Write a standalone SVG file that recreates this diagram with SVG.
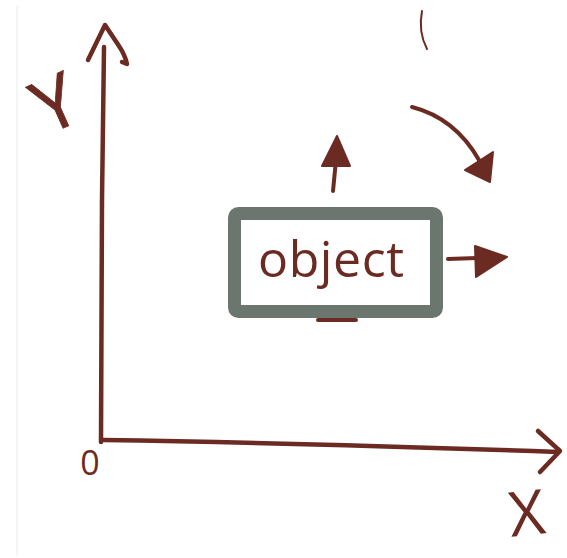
<svg xmlns="http://www.w3.org/2000/svg" width="567" height="558" viewBox="0 0 567 558">
<style>
.ink{fill:none;stroke:#6b2b23;stroke-linecap:round;stroke-linejoin:round}
.head{fill:#6b2b23;stroke:#6b2b23;stroke-width:2;stroke-linejoin:round}
.lbl{fill:#6b2b23;font-family:"Open Sans","DejaVu Sans",sans-serif;text-anchor:middle}
</style>
<rect width="567" height="558" fill="#ffffff"/>
<line x1="17" y1="5" x2="17" y2="556" stroke="#ececec" stroke-width="1"/>
<g id="axes">
  <path class="ink" stroke-width="4.5" d="M104,47 L102,200 L101,442"/>
  <path class="ink" stroke-width="4.5" d="M88,60 L105,25 L119,46 Q125,55 127,64 L122,62"/>
  <path class="ink" stroke-width="4.5" d="M103,440 Q300,443 558,452"/>
  <path class="ink" stroke-width="4.5" d="M538,431 L560,451 L540,472"/>
</g>
<g id="labels">
  <text class="lbl" font-size="74" font-weight="400" stroke="#6b2b23" stroke-width="0.8" transform="translate(66,127) rotate(-24)" x="0" y="0">Y</text>
  <text class="lbl" font-size="62" font-weight="400" transform="translate(529,535) rotate(-6)" x="0" y="0">X</text>
  <text class="lbl" font-size="34" font-weight="400" x="90" y="475">0</text>
</g>
<g id="object">
  <path class="ink" stroke-width="4" d="M430,256 L430,308"/>
  <path class="ink" stroke-width="4" d="M318,320 L356,320"/>
  <rect x="234.5" y="213.5" width="202" height="98" rx="4" fill="#ffffff" stroke="#6a766e" stroke-width="13"/>
  <text class="lbl" font-size="50" font-weight="400" x="331" y="277" textLength="146" lengthAdjust="spacing">object</text>
</g>
<g id="connectors">
  <path class="ink" stroke-width="4" d="M448,259 L477,258"/>
  <polygon class="head" points="475,246 507,257 476,277"/>
  <path class="ink" stroke-width="4" d="M333,191 L336,160"/>
  <polygon class="head" points="337,136 322,166 350,166"/>
  <path class="ink" stroke-width="4" d="M412,107 Q455,118 479,160"/>
  <polygon class="head" points="465,170 493,152 490,182"/>
  <path class="ink" stroke-width="2" d="M422,11 Q418,32 427,49"/>
</g>
</svg>
